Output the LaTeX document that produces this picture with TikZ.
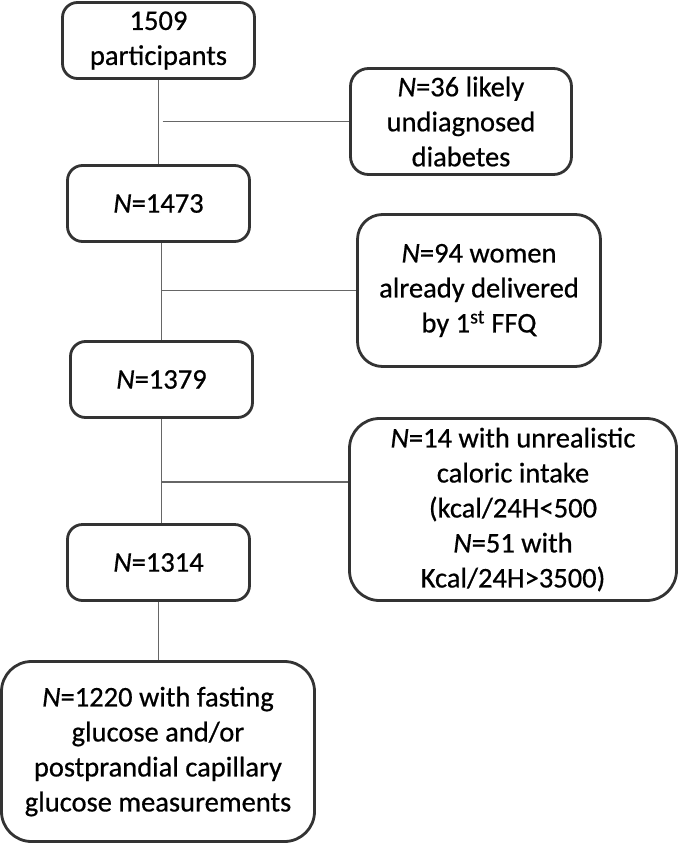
\documentclass[tikz,border=0pt]{standalone}
\usepackage{fontspec}
\setmainfont[FakeBold=0.6]{Carlito}
\begin{document}
\begin{tikzpicture}[x=1pt,y=-1pt,
  box/.style={draw=black!80, line width=2.8pt, fill=white, align=center,
    inner sep=0pt, font=\fontsize{28.5}{35}\selectfont},
  link/.style={draw=black!60, line width=1.8pt}]
\useasboundingbox (0,0) rectangle (680,846);
\node[box, rounded corners=15pt, minimum width=192pt, minimum height=76pt] (b1) at (158.5,40.5) {1509\\participants};
\node[box, rounded corners=15pt, minimum width=182pt, minimum height=76pt] (b2) at (158.5,203.5) {\textit{N}=1473};
\node[box, rounded corners=15pt, minimum width=182pt, minimum height=76pt] (b3) at (161.5,379.5) {\textit{N}=1379};
\node[box, rounded corners=15pt, minimum width=182pt, minimum height=76pt] (b4) at (158.5,562.5) {\textit{N}=1314};
\node[box, rounded corners=30pt, minimum width=313pt, minimum height=180pt] (b5) at (158,751.5) {\textit{N}=1220 with fasting\\glucose and/or\\postprandial capillary\\glucose measurements};
\node[box, rounded corners=18pt, minimum width=221pt, minimum height=106pt] (r1) at (461,121.5) {\textit{N}=36 likely\\undiagnosed\\diabetes};
\node[box, rounded corners=25pt, minimum width=243pt, minimum height=152pt] (r2) at (479,290.5) {\textit{N}=94 women\\already delivered\\by 1\textsuperscript{st} FFQ};
\node[box, rounded corners=30pt, minimum width=327pt, minimum height=182pt] (r3) at (513,509.5) {\textit{N}=14 with unrealistic\\caloric intake\\(kcal/24H<500\\\textit{N}=51 with\\Kcal/24H>3500)};
% main vertical connectors
\draw[link] (b1.south) -- (b1.south |- b2.north);
\draw[link] (b2.south -| b3.north) -- (b3.north);
\draw[link] (b3.south) -- (b3.south |- b4.north);
\draw[link] (b4.south) -- (b4.south |- b5.north);
% side branches
\coordinate (j1) at (b1.south |- r1.west);
\coordinate (j2) at (b3.north |- r2.west);
\coordinate (k3) at ([yshift=27.5pt]r3.west);
\coordinate (j3) at (b3.south |- k3);
\draw[link] ([xshift=4pt]j1) -- (r1.west);
\draw[link] (j2) -- (r2.west);
\draw[link] (j3) -- (k3);
\end{tikzpicture}
\end{document}
